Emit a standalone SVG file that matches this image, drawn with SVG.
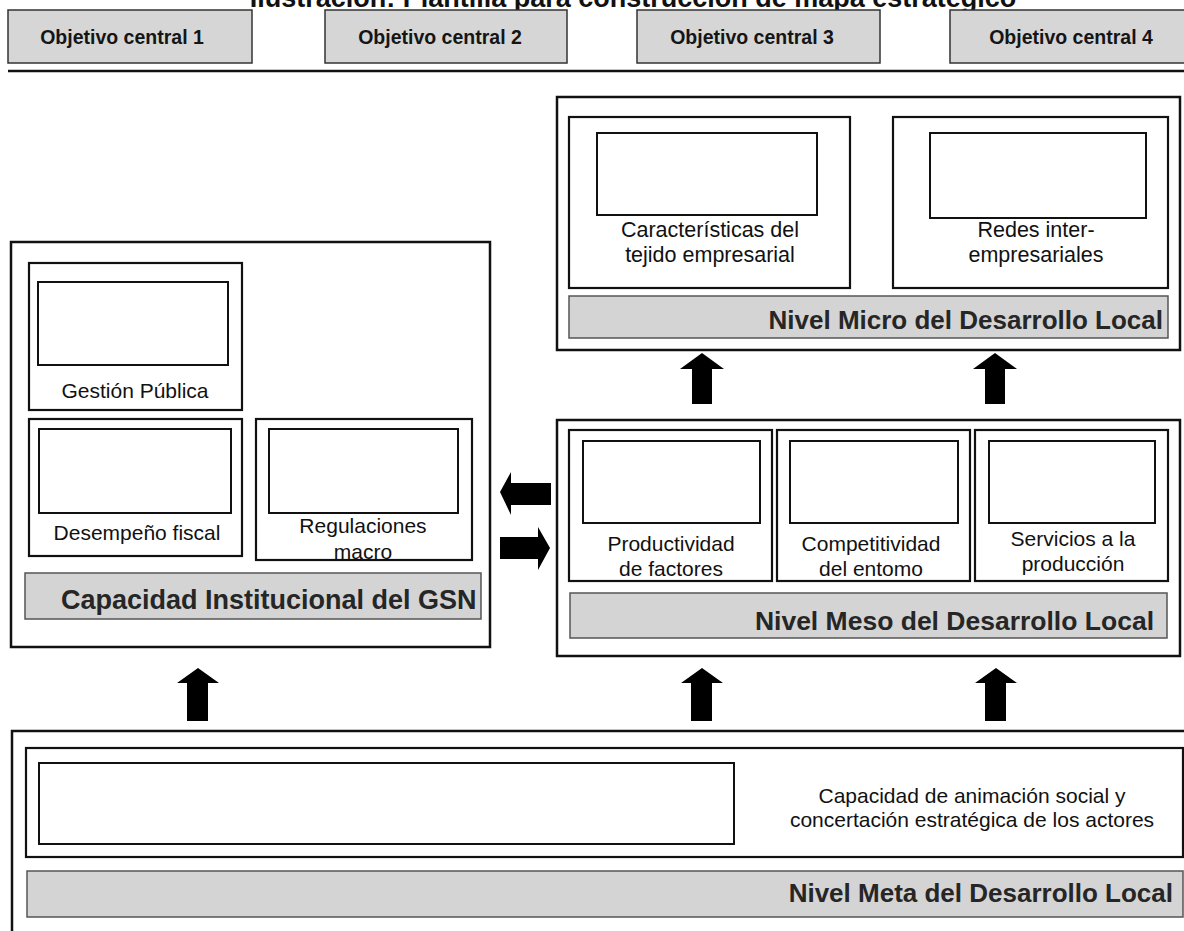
<svg xmlns="http://www.w3.org/2000/svg" width="1184" height="931" viewBox="0 0 1184 931">
  <defs>
    <style>
      .bg { fill: #ffffff; }
      .frame { fill: #ffffff; stroke: #111; stroke-width: 2.5; }
      .box { fill: #ffffff; stroke: #111; stroke-width: 2.2; }
      .slot { fill: #ffffff; stroke: #111; stroke-width: 2; }
      .band { fill: #d4d4d4; stroke: #555; stroke-width: 1.5; }
      .obj { fill: #d6d6d6; stroke: #333; stroke-width: 1.5; }
      .title { font-family: "Liberation Sans", Arial, sans-serif; font-weight: bold; font-size: 27px; fill: #111; }
      .objtxt { font-family: "Liberation Sans", Arial, sans-serif; font-weight: bold; font-size: 19.5px; fill: #151515; text-anchor: middle; }
      .lbl { font-family: "Liberation Sans", Arial, sans-serif; font-size: 21px; fill: #111; text-anchor: middle; }
      .bandtxt { font-family: "Liberation Sans", Arial, sans-serif; font-weight: bold; font-size: 26px; fill: #262626; }
      .arrow { fill: #000; }
    </style>
  </defs>

  <rect class="bg" x="0" y="0" width="1184" height="931"/>

  <!-- heading, partly above the top edge -->
  <text class="title" x="633" y="7" text-anchor="middle">Ilustración: Plantilla para construcción de mapa estratégico</text>

  <!-- strategic objectives row -->
  <g id="objetivo-1">
    <rect class="obj" x="8" y="10" width="244" height="53"/>
    <text class="objtxt" x="122" y="44">Objetivo central 1</text>
  </g>
  <g id="objetivo-2">
    <rect class="obj" x="325" y="10" width="242" height="53"/>
    <text class="objtxt" x="440" y="44">Objetivo central 2</text>
  </g>
  <g id="objetivo-3">
    <rect class="obj" x="637" y="10" width="243" height="53"/>
    <text class="objtxt" x="752" y="44">Objetivo central 3</text>
  </g>
  <g id="objetivo-4">
    <rect class="obj" x="950" y="10" width="240" height="53"/>
    <text class="objtxt" x="1071" y="44">Objetivo central 4</text>
  </g>
  <line x1="8" y1="71" x2="1184" y2="71" stroke="#111" stroke-width="2.5"/>

  <!-- micro level -->
  <g id="nivel-micro">
    <rect class="frame" x="557" y="97" width="623" height="253"/>
    <g id="tejido-empresarial">
      <rect class="box" x="569" y="117" width="281" height="171"/>
      <rect class="slot" x="597" y="133" width="220" height="82"/>
      <text class="lbl" x="710" y="237" style="font-size:21.5px">Características del</text>
      <text class="lbl" x="710" y="262" style="font-size:21.5px">tejido empresarial</text>
    </g>
    <g id="redes-interempresariales">
      <rect class="box" x="893" y="117" width="275" height="171"/>
      <rect class="slot" x="930" y="133" width="216" height="85"/>
      <text class="lbl" x="1036" y="237" style="font-size:21.5px">Redes inter-</text>
      <text class="lbl" x="1036" y="262" style="font-size:21.5px">empresariales</text>
    </g>
    <rect class="band" x="569" y="296" width="599" height="42"/>
    <text class="bandtxt" x="1163" y="329" text-anchor="end">Nivel Micro del Desarrollo Local</text>
  </g>

  <!-- institutional capacity -->
  <g id="capacidad-institucional">
    <rect class="frame" x="11" y="242" width="479" height="405"/>
    <g id="gestion-publica">
      <rect class="box" x="29" y="263" width="213" height="147"/>
      <rect class="slot" x="38" y="282" width="190" height="83"/>
      <text class="lbl" x="135" y="398">Gestión Pública</text>
    </g>
    <g id="desempeno-fiscal">
      <rect class="box" x="29" y="419" width="213" height="137"/>
      <rect class="slot" x="39" y="429" width="192" height="84"/>
      <text class="lbl" x="137" y="540">Desempeño fiscal</text>
    </g>
    <g id="regulaciones-macro">
      <rect class="box" x="256" y="419" width="216" height="141"/>
      <rect class="slot" x="269" y="429" width="189" height="84"/>
      <text class="lbl" x="363" y="533">Regulaciones</text>
      <text class="lbl" x="363" y="559">macro</text>
    </g>
    <rect class="band" x="25" y="573" width="456" height="46"/>
    <text class="bandtxt" x="61" y="609" style="font-size:27px">Capacidad Institucional del GSN</text>
  </g>

  <!-- meso level -->
  <g id="nivel-meso">
    <rect class="frame" x="557" y="420" width="623" height="236"/>
    <g id="productividad-factores">
      <rect class="box" x="569" y="430" width="203" height="151"/>
      <rect class="slot" x="583" y="441" width="177" height="82"/>
      <text class="lbl" x="671" y="551">Productividad</text>
      <text class="lbl" x="671" y="576">de factores</text>
    </g>
    <g id="competitividad-entorno">
      <rect class="box" x="777" y="430" width="193" height="151"/>
      <rect class="slot" x="790" y="441" width="168" height="82"/>
      <text class="lbl" x="871" y="551">Competitividad</text>
      <text class="lbl" x="871" y="576">del entomo</text>
    </g>
    <g id="servicios-produccion">
      <rect class="box" x="975" y="430" width="193" height="151"/>
      <rect class="slot" x="989" y="441" width="166" height="82"/>
      <text class="lbl" x="1073" y="546">Servicios a la</text>
      <text class="lbl" x="1073" y="571">producción</text>
    </g>
    <rect class="band" x="570" y="593" width="597" height="45"/>
    <text class="bandtxt" x="1154" y="630" text-anchor="end" style="font-size:26.5px">Nivel Meso del Desarrollo Local</text>
  </g>

  <!-- meta level -->
  <g id="nivel-meta">
    <rect class="frame" x="12" y="731" width="1200" height="230"/>
    <g id="animacion-social">
      <rect class="box" x="26" y="748" width="1157" height="109"/>
      <rect class="slot" x="39" y="763" width="695" height="81"/>
      <text class="lbl" x="972" y="803">Capacidad de animación social y</text>
      <text class="lbl" x="972" y="827">concertación estratégica de los actores</text>
    </g>
    <rect class="band" x="27" y="871" width="1156" height="46"/>
    <text class="bandtxt" x="1173" y="902" text-anchor="end">Nivel Meta del Desarrollo Local</text>
  </g>

  <!-- connectors: block arrows -->
  <g id="connectors">
    <!-- meso to micro -->
    <polygon class="arrow" points="702,353 724,369 712,369 712,404 692,404 692,369 680,369"/>
    <polygon class="arrow" points="995,353 1017,369 1005,369 1005,404 985,404 985,369 973,369"/>
    <!-- meso <-> institutional -->
    <polygon class="arrow" points="500,492 511,472 511,483 551,483 551,505 511,505 511,515"/>
    <polygon class="arrow" points="550,548 538,527 538,537 500,537 500,559 538,559 538,570"/>
    <!-- meta to upper levels -->
    <polygon class="arrow" points="198,668 219,683 208,683 208,721 187,721 187,683 177,683"/>
    <polygon class="arrow" points="702,668 723,683 712,683 712,721 691,721 691,683 681,683"/>
    <polygon class="arrow" points="996,668 1017,683 1006,683 1006,721 985,721 985,683 975,683"/>
  </g>
</svg>
